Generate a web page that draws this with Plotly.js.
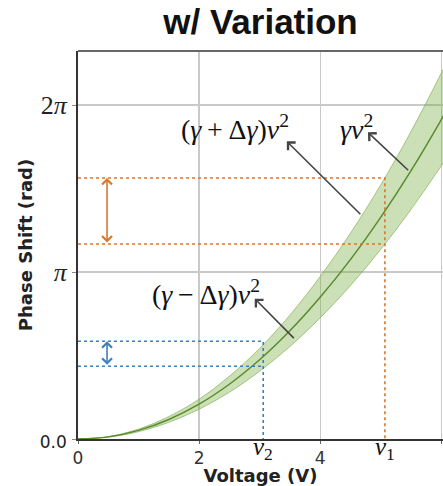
<!DOCTYPE html>
<html>
<head>
<meta charset="utf-8">
<script src="https://cdn.plot.ly/plotly-3.0.1.min.js"></script>
<style>html,body{margin:0;padding:0;overflow:hidden;background:#fff;}</style>
</head>
<body>
<div id="chart" style="width:443px;height:486px;"></div>
<script>
// ---- data ----
const voltage      = [0, 0.5, 1, 1.5, 2, 2.5, 3, 3.5, 4, 4.5, 5, 5.5, 6, 6.1];
const phaseCenter  = [0, 0.040, 0.162, 0.368, 0.655, 1.030, 1.490, 2.035, 2.665, 3.375, 4.170, 5.045, 6.005, 6.21];
const phaseUpper   = [0, 0.046, 0.186, 0.422, 0.750, 1.180, 1.705, 2.330, 3.055, 3.870, 4.780, 5.780, 6.880, 7.11];
const phaseLower   = [0, 0.034, 0.138, 0.314, 0.560, 0.880, 1.275, 1.740, 2.278, 2.885, 3.565, 4.315, 5.135, 5.30];

const v1 = 5.07, phi1Hi = 4.91, phi1Lo = 3.67;
const v2 = 3.06, phi2Hi = 1.84, phi2Lo = 1.37;

const xTickVals = [0, 2, 4, 6];
const xTickText = ['0', '2', '4', '6'];
const yTickVals = [0, Math.PI, 2 * Math.PI];
const sansSpan = "font-family:'DejaVu Sans';font-size:17px";
const yTickText = ['<span style="' + sansSpan + '">0.0</span>', '<i>π</i>', '2<i>π</i>'];

const labelCenter = '<i>γv</i><sup>2</sup>';
const labelUpper  = '(<i>γ</i>&#8201;+&#8201;Δ<i>γ</i>)<i>v</i><sup>2</sup>';
const labelLower  = '(<i>γ</i>&#8201;−&#8201;Δ<i>γ</i>)<i>v</i><sup>2</sup>';

// ---- traces ----
const green = '#5a8a2c';
const traces = [
  {x: voltage, y: phaseLower, mode: 'lines', line: {color: 'rgba(118,168,66,0.75)', width: 0.8, shape: 'spline'}, hoverinfo: 'skip'},
  {x: voltage, y: phaseUpper, mode: 'lines', line: {color: 'rgba(118,168,66,0.75)', width: 0.8, shape: 'spline'},
   fill: 'tonexty', fillcolor: 'rgba(122,173,69,0.38)', hoverinfo: 'skip'},
  {x: voltage, y: phaseCenter, mode: 'lines', line: {color: green, width: 1.5, shape: 'spline'}, hoverinfo: 'skip'},
  {x: [0, v1, null, 0, v1, v1, null], y: [phi1Lo, phi1Lo, null, phi1Hi, phi1Hi, 0, null], mode: 'lines',
   line: {color: '#d9772b', width: 1.6, dash: 'dot'}, hoverinfo: 'skip'},
  {x: [0, v2, null, 0, v2, v2, null], y: [phi2Lo, phi2Lo, null, phi2Hi, phi2Hi, 0, null], mode: 'lines',
   line: {color: '#3f7fba', width: 1.6, dash: 'dot'}, hoverinfo: 'skip'}
];

const serifFont = {family: 'Liberation Serif', size: 28, color: '#111'};
const arrowColor = '#444';
function pointer(hx, hy, tx, ty) {
  return {x: hx, y: hy, ax: tx, ay: ty, xref: 'x', yref: 'y', axref: 'x', ayref: 'y',
          text: '', showarrow: true, arrowhead: 4, arrowsize: 1.3, arrowwidth: 1.6, arrowcolor: arrowColor};
}
function dbl(x, y0, y1, color) {
  return {x: x, y: y1, ax: x, ay: y0, xref: 'x', yref: 'y', axref: 'x', ayref: 'y', text: '',
          showarrow: true, arrowhead: 4, startarrowhead: 4, arrowside: 'end+start', arrowsize: 1.2, startarrowsize: 1.2,
          arrowwidth: 1.6, arrowcolor: color, standoff: 0, startstandoff: 0};
}

const annotations = [
  {x: 4.60, y: 5.86, xref: 'x', yref: 'y', text: labelCenter, showarrow: false, font: serifFont},
  {x: 2.60, y: 5.86, xref: 'x', yref: 'y', text: labelUpper, showarrow: false, font: serifFont},
  {x: 2.11, y: 2.76, xref: 'x', yref: 'y', text: labelLower, showarrow: false, font: serifFont},
  pointer(4.79, 5.77, 5.48, 5.03),
  pointer(3.45, 5.60, 4.69, 4.20),
  pointer(2.92, 2.64, 3.59, 1.87),
  dbl(0.48, phi1Lo, phi1Hi, '#d9772b'),
  dbl(0.48, phi2Lo, phi2Hi, '#3f7fba'),
  {x: -0.34, y: (phi1Hi + phi1Lo) / 2, xref: 'x', yref: 'y', text: 'Δ<i>φ</i><sub>1</sub>', showarrow: false,
   font: {family: 'Liberation Serif', size: 24, color: '#111'}},
  {x: -0.34, y: (phi2Hi + phi2Lo) / 2, xref: 'x', yref: 'y', text: 'Δ<i>φ</i><sub>2</sub>', showarrow: false,
   font: {family: 'Liberation Serif', size: 24, color: '#111'}},
  {x: v1, y: 0, xref: 'x', yref: 'paper', yanchor: 'top', yshift: 8, text: '<i>v</i><sub>1</sub>', showarrow: false,
   font: {family: 'Liberation Serif', size: 25, color: '#111'}},
  {x: v2, y: 0, xref: 'x', yref: 'paper', yanchor: 'top', yshift: 8, text: '<i>v</i><sub>2</sub>', showarrow: false,
   font: {family: 'Liberation Serif', size: 25, color: '#111'}}
];

const layout = {
  width: 443, height: 486,
  margin: {l: 78, r: 0, t: 51, b: 47},
  paper_bgcolor: '#fff', plot_bgcolor: '#fff',
  showlegend: false,
  hovermode: false,
  title: {text: '<b>w/ Variation</b>', font: {family: 'Liberation Sans', size: 35, color: '#111'},
          x: 0.5, xref: 'paper', xanchor: 'center', y: 0.956, yref: 'container', yanchor: 'middle'},
  xaxis: {
    range: [0, 6.03], tickvals: xTickVals, ticktext: xTickText,
    tickfont: {family: 'DejaVu Sans', size: 17, color: '#333'},
    showgrid: true, gridcolor: '#c9c9c9', gridwidth: 1.2, zeroline: false,
    showline: true, linecolor: '#333', linewidth: 2, ticks: 'outside', ticklen: 3, tickcolor: '#666',
    title: {text: '<b>Voltage (V)</b>', font: {family: 'DejaVu Sans', size: 18, color: '#222'}, standoff: 3}
  },
  yaxis: {
    range: [0, 7.30], tickvals: yTickVals, ticktext: yTickText,
    tickfont: {family: 'Liberation Serif', size: 26, color: '#222'},
    showgrid: true, gridcolor: '#c9c9c9', gridwidth: 1.2, zeroline: false,
    showline: true, linecolor: '#333', linewidth: 2, ticks: 'outside', ticklen: 4, tickcolor: '#888',
    title: {text: '<b>Phase Shift (rad)</b>', font: {family: 'DejaVu Sans', size: 18, color: '#222'}, standoff: 2}
  },
  shapes: [
    {type: 'line', xref: 'paper', yref: 'paper', x0: 0, x1: 1, y0: 1, y1: 1, line: {color: '#666', width: 2}}
  ],
  annotations: annotations
};

Plotly.newPlot('chart', traces, layout, {displayModeBar: false, staticPlot: true});
</script>
</body>
</html>
